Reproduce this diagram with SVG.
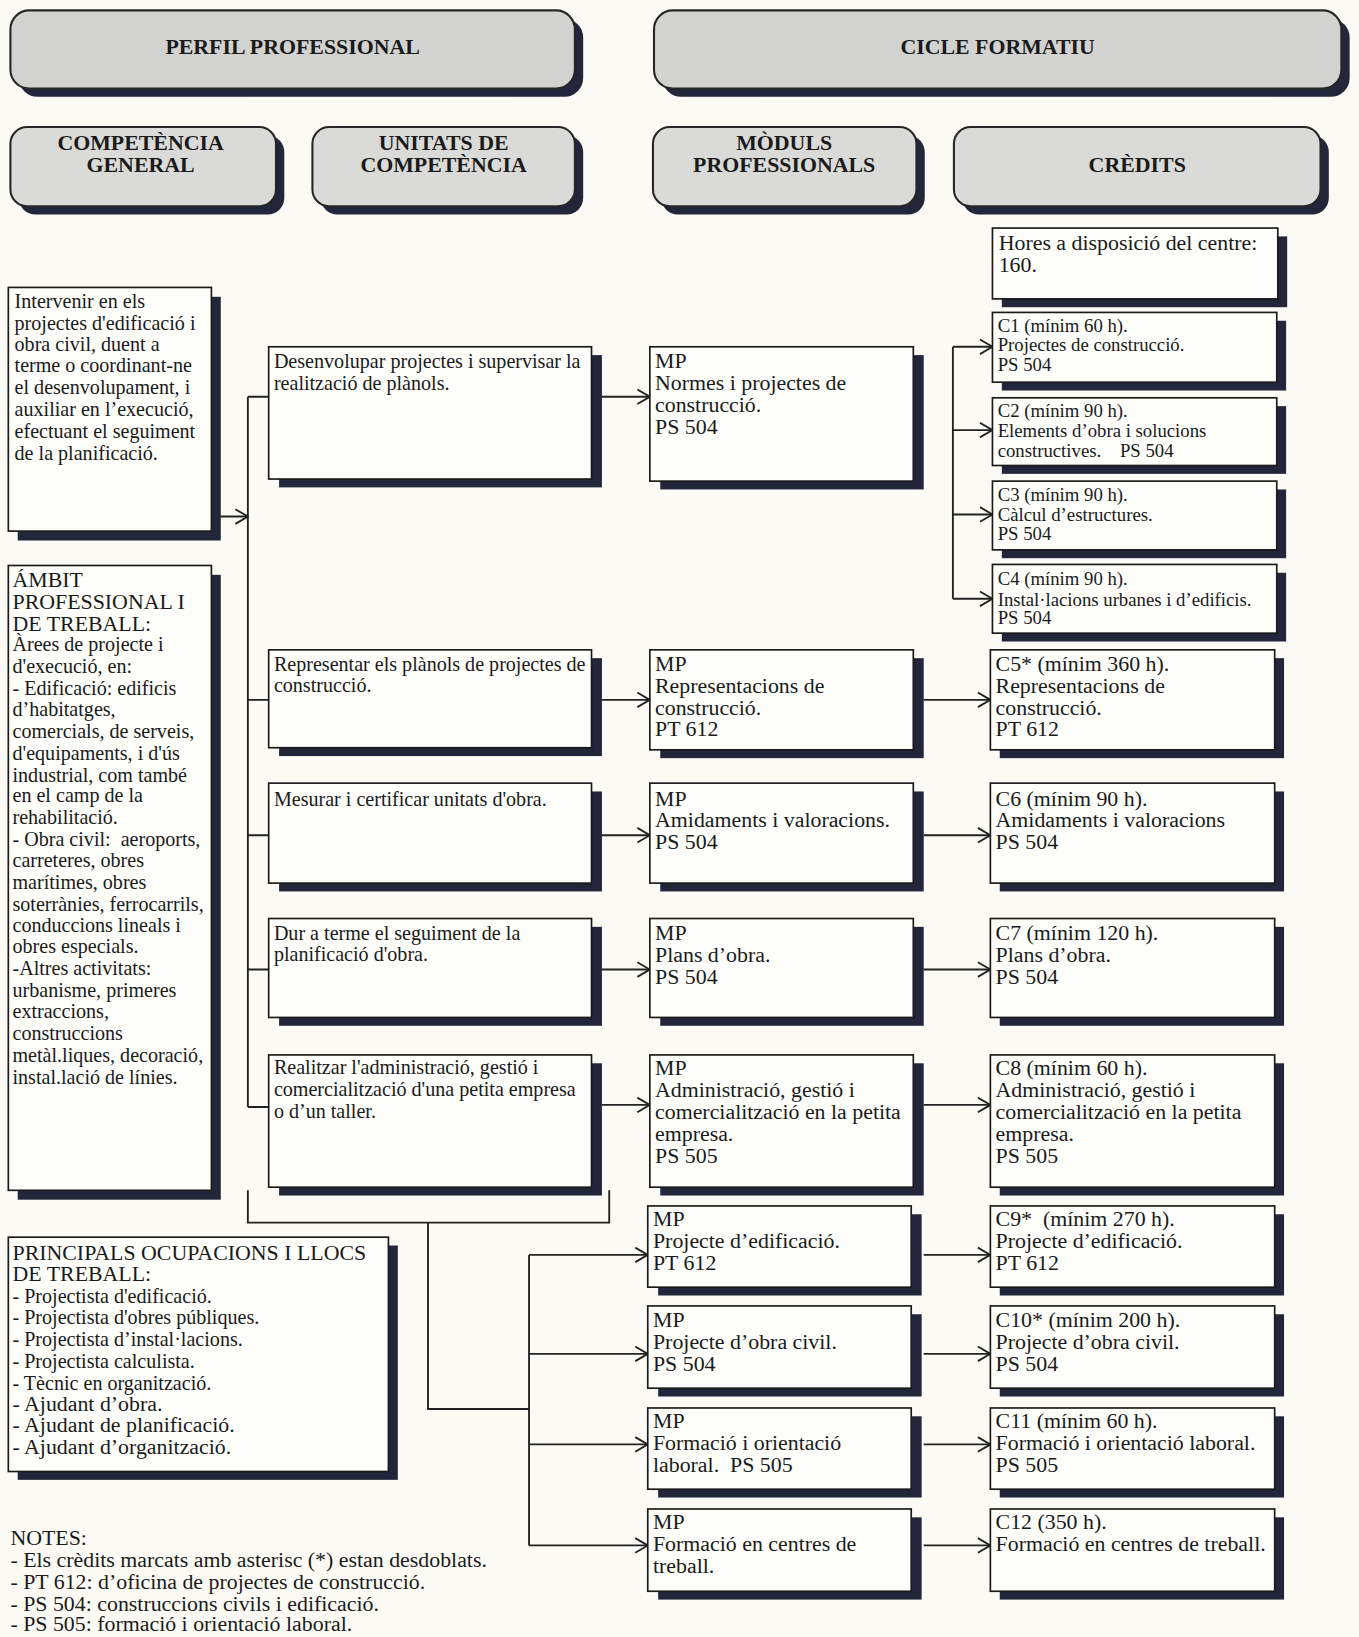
<svg xmlns="http://www.w3.org/2000/svg" width="1359" height="1637" viewBox="0 0 1359 1637">
<defs>
<style>
.bg{fill:#fbfaf4}
.hdr{fill:#d2d2d0;stroke:#262626;stroke-width:2}
.hdr2{fill:#dadad8;stroke:#262626;stroke-width:2}
.sh{fill:#23263a}
.box{fill:#fdfdf9;stroke:#1a1a1a;stroke-width:1.6}
text{font-family:"Liberation Serif","Times New Roman",serif;fill:#1a1a1a;white-space:pre}
.t,.l,.s{transform:translate(0px,1.5px)}
.h{font-size:21px;font-weight:bold;text-anchor:middle}
.t{font-size:19.3px}
.l{font-size:21px}
.s{font-size:18px}
.c{fill:none;stroke:#222;stroke-width:1.8}
</style>
<marker id="ar" viewBox="0 0 14 16" refX="13" refY="8" markerWidth="14" markerHeight="16" markerUnits="userSpaceOnUse" orient="auto">
<path d="M1,1 L13,8 L1,15" fill="none" stroke="#222" stroke-width="1.8"/>
</marker>
</defs>
<rect class="bg" x="0" y="0" width="1359" height="1637"/>
<g transform="scale(1.0414)">

<g id="hdr-perfil">
<rect class="sh" x="18" y="18" width="542" height="75" rx="18"/>
<rect class="hdr" x="10" y="10" width="542" height="75" rx="18"/>
<text class="h" x="281" y="52">PERFIL PROFESSIONAL</text>
</g>
<g id="hdr-cicle">
<rect class="sh" x="636" y="18" width="660" height="75" rx="18"/>
<rect class="hdr" x="628" y="10" width="660" height="75" rx="18"/>
<text class="h" x="958" y="52">CICLE FORMATIU</text>
</g>
<g id="hdr-competencia">
<rect class="sh" x="18" y="130" width="255" height="76" rx="16"/>
<rect class="hdr2" x="10" y="122" width="255" height="76" rx="16"/>
<text class="h" x="135" y="144">COMPETÈNCIA</text>
<text class="h" x="135" y="165">GENERAL</text>
</g>
<g id="hdr-unitats">
<rect class="sh" x="308" y="130" width="252" height="76" rx="16"/>
<rect class="hdr2" x="300" y="122" width="252" height="76" rx="16"/>
<text class="h" x="426" y="144">UNITATS DE</text>
<text class="h" x="426" y="165">COMPETÈNCIA</text>
</g>
<g id="hdr-moduls">
<rect class="sh" x="635" y="130" width="253" height="76" rx="16"/>
<rect class="hdr2" x="627" y="122" width="253" height="76" rx="16"/>
<text class="h" x="753" y="144">MÒDULS</text>
<text class="h" x="753" y="165">PROFESSIONALS</text>
</g>
<g id="hdr-credits">
<rect class="sh" x="924" y="130" width="352" height="76" rx="16"/>
<rect class="hdr2" x="916" y="122" width="352" height="76" rx="16"/>
<text class="h" x="1092" y="165">CRÈDITS</text>
</g>

<g id="connectors">
<path class="c" d="M203,496 H238" marker-end="url(#ar)"/>
<path class="c" d="M238,381 V1063"/>
<path class="c" d="M238,381 H258 M238,672 H258 M238,802 H258 M238,931 H258 M238,1063 H258"/>
<path class="c" d="M578,381 H624" marker-end="url(#ar)"/>
<path class="c" d="M578,672 H624" marker-end="url(#ar)"/>
<path class="c" d="M578,802 H624" marker-end="url(#ar)"/>
<path class="c" d="M578,931 H624" marker-end="url(#ar)"/>
<path class="c" d="M578,1061 H624" marker-end="url(#ar)"/>
<path class="c" d="M915,333 V575"/>
<path class="c" d="M915,333 H953" marker-end="url(#ar)"/>
<path class="c" d="M915,413 H953" marker-end="url(#ar)"/>
<path class="c" d="M915,494 H953" marker-end="url(#ar)"/>
<path class="c" d="M915,575 H953" marker-end="url(#ar)"/>
<path class="c" d="M887,672 H951" marker-end="url(#ar)"/>
<path class="c" d="M887,802 H951" marker-end="url(#ar)"/>
<path class="c" d="M887,931 H951" marker-end="url(#ar)"/>
<path class="c" d="M887,1061 H951" marker-end="url(#ar)"/>
<path class="c" d="M887,1205 H951" marker-end="url(#ar)"/>
<path class="c" d="M887,1300 H951" marker-end="url(#ar)"/>
<path class="c" d="M887,1387 H951" marker-end="url(#ar)"/>
<path class="c" d="M887,1484 H951" marker-end="url(#ar)"/>
<path class="c" d="M238,1143 V1174 H585 V1143"/>
<path class="c" d="M411,1174 V1353 H508"/>
<path class="c" d="M508,1205 V1484"/>
<path class="c" d="M508,1205 H622" marker-end="url(#ar)"/>
<path class="c" d="M508,1300 H622" marker-end="url(#ar)"/>
<path class="c" d="M508,1387 H622" marker-end="url(#ar)"/>
<path class="c" d="M508,1484 H622" marker-end="url(#ar)"/>
</g>

<g id="competencia-general">
<rect class="sh" x="17" y="285" width="195" height="234"/>
<rect class="box" x="8" y="276" width="195" height="234"/>
<text class="t" x="14" y="294">Intervenir en els</text>
<text class="t" x="14" y="315">projectes d'edificació i</text>
<text class="t" x="14" y="336">obra civil, duent a</text>
<text class="t" x="14" y="356">terme o coordinant-ne</text>
<text class="t" x="14" y="377">el desenvolupament, i</text>
<text class="t" x="14" y="398">auxiliar en l’execució,</text>
<text class="t" x="14" y="419">efectuant el seguiment</text>
<text class="t" x="14" y="440">de la planificació.</text>
</g>

<g id="ambit">
<rect class="sh" x="17" y="552" width="195" height="600"/>
<rect class="box" x="8" y="543" width="195" height="600"/>
<text class="l" x="12" y="562">ÁMBIT</text>
<text class="l" x="12" y="583">PROFESSIONAL I</text>
<text class="l" x="12" y="604">DE TREBALL:</text>
<text class="t" x="12" y="624">Àrees de projecte i</text>
<text class="t" x="12" y="645">d'execució, en:</text>
<text class="t" x="12" y="666">- Edificació: edificis</text>
<text class="t" x="12" y="686">d’habitatges,</text>
<text class="t" x="12" y="707">comercials, de serveis,</text>
<text class="t" x="12" y="728">d'equipaments, i d'ús</text>
<text class="t" x="12" y="749">industrial, com també</text>
<text class="t" x="12" y="769">en el camp de la</text>
<text class="t" x="12" y="790">rehabilitació.</text>
<text class="t" x="12" y="811">- Obra civil:  aeroports,</text>
<text class="t" x="12" y="831">carreteres, obres</text>
<text class="t" x="12" y="852">marítimes, obres</text>
<text class="t" x="12" y="873">soterrànies, ferrocarrils,</text>
<text class="t" x="12" y="893">conduccions lineals i</text>
<text class="t" x="12" y="914">obres especials.</text>
<text class="t" x="12" y="935">-Altres activitats:</text>
<text class="t" x="12" y="956">urbanisme, primeres</text>
<text class="t" x="12" y="976">extraccions,</text>
<text class="t" x="12" y="997">construccions</text>
<text class="t" x="12" y="1018">metàl.liques, decoració,</text>
<text class="t" x="12" y="1039">instal.lació de línies.</text>
</g>

<g id="ocupacions">
<rect class="sh" x="17" y="1196" width="365" height="225"/>
<rect class="box" x="8" y="1188" width="365" height="225"/>
<text class="l" x="12" y="1208">PRINCIPALS OCUPACIONS I LLOCS</text>
<text class="l" x="12" y="1229">DE TREBALL:</text>
<text class="t" x="12" y="1250">- Projectista d'edificació.</text>
<text class="t" x="12" y="1270">- Projectista d'obres públiques.</text>
<text class="t" x="12" y="1291">- Projectista d’instal·lacions.</text>
<text class="t" x="12" y="1312">- Projectista calculista.</text>
<text class="t" x="12" y="1333">- Tècnic en organització.</text>
<text class="l" x="12" y="1353">- Ajudant d’obra.</text>
<text class="l" x="12" y="1374">- Ajudant de planificació.</text>
<text class="l" x="12" y="1395">- Ajudant d’organització.</text>
</g>

<g id="notes">
<text class="l" x="10" y="1482">NOTES:</text>
<text class="l" x="10" y="1503">- Els crèdits marcats amb asterisc (*) estan desdoblats.</text>
<text class="l" x="10" y="1524">- PT 612: d’oficina de projectes de construcció.</text>
<text class="l" x="10" y="1545">- PS 504: construccions civils i edificació.</text>
<text class="l" x="10" y="1565">- PS 505: formació i orientació laboral.</text>
</g>

<g id="uc1">
<rect class="sh" x="268" y="341" width="310" height="127"/>
<rect class="box" x="258" y="333" width="310" height="127"/>
<text class="t" x="263" y="352">Desenvolupar projectes i supervisar la</text>
<text class="t" x="263" y="373">realització de plànols.</text>
</g>
<g id="uc2">
<rect class="sh" x="268" y="632" width="310" height="94"/>
<rect class="box" x="258" y="624" width="310" height="94"/>
<text class="t" x="263" y="643">Representar els plànols de projectes de</text>
<text class="t" x="263" y="663">construcció.</text>
</g>
<g id="uc3">
<rect class="sh" x="268" y="760" width="310" height="96"/>
<rect class="box" x="258" y="752" width="310" height="96"/>
<text class="t" x="263" y="772">Mesurar i certificar unitats d'obra.</text>
</g>
<g id="uc4">
<rect class="sh" x="268" y="890" width="310" height="95"/>
<rect class="box" x="258" y="882" width="310" height="95"/>
<text class="t" x="263" y="901">Dur a terme el seguiment de la</text>
<text class="t" x="263" y="921">planificació d'obra.</text>
</g>
<g id="uc5">
<rect class="sh" x="268" y="1021" width="310" height="127"/>
<rect class="box" x="258" y="1013" width="310" height="127"/>
<text class="t" x="263" y="1030">Realitzar l'administració, gestió i</text>
<text class="t" x="263" y="1051">comercialització d'una petita empresa</text>
<text class="t" x="263" y="1072">o d’un taller.</text>
</g>

<g id="mp1">
<rect class="sh" x="634" y="341" width="253" height="129"/>
<rect class="box" x="624" y="333" width="253" height="129"/>
<text class="l" x="629" y="352">MP</text>
<text class="l" x="629" y="373">Normes i projectes de</text>
<text class="l" x="629" y="394">construcció.</text>
<text class="l" x="629" y="415">PS 504</text>
</g>
<g id="mp2">
<rect class="sh" x="634" y="632" width="253" height="96"/>
<rect class="box" x="624" y="624" width="253" height="96"/>
<text class="l" x="629" y="643">MP</text>
<text class="l" x="629" y="664">Representacions de</text>
<text class="l" x="629" y="685">construcció.</text>
<text class="l" x="629" y="705">PT 612</text>
</g>
<g id="mp3">
<rect class="sh" x="634" y="760" width="253" height="96"/>
<rect class="box" x="624" y="752" width="253" height="96"/>
<text class="l" x="629" y="772">MP</text>
<text class="l" x="629" y="793">Amidaments i valoracions.</text>
<text class="l" x="629" y="814">PS 504</text>
</g>
<g id="mp4">
<rect class="sh" x="634" y="890" width="253" height="95"/>
<rect class="box" x="624" y="882" width="253" height="95"/>
<text class="l" x="629" y="901">MP</text>
<text class="l" x="629" y="922">Plans d’obra.</text>
<text class="l" x="629" y="943">PS 504</text>
</g>
<g id="mp5">
<rect class="sh" x="634" y="1021" width="253" height="127"/>
<rect class="box" x="624" y="1013" width="253" height="127"/>
<text class="l" x="629" y="1031">MP</text>
<text class="l" x="629" y="1052">Administració, gestió i</text>
<text class="l" x="629" y="1073">comercialització en la petita</text>
<text class="l" x="629" y="1094">empresa.</text>
<text class="l" x="629" y="1115">PS 505</text>
</g>
<g id="mp6">
<rect class="sh" x="632" y="1166" width="253" height="78"/>
<rect class="box" x="622" y="1158" width="253" height="78"/>
<text class="l" x="627" y="1176">MP</text>
<text class="l" x="627" y="1197">Projecte d’edificació.</text>
<text class="l" x="627" y="1218">PT 612</text>
</g>
<g id="mp7">
<rect class="sh" x="632" y="1262" width="253" height="79"/>
<rect class="box" x="622" y="1254" width="253" height="79"/>
<text class="l" x="627" y="1273">MP</text>
<text class="l" x="627" y="1294">Projecte d’obra civil.</text>
<text class="l" x="627" y="1315">PS 504</text>
</g>
<g id="mp8">
<rect class="sh" x="632" y="1360" width="253" height="78"/>
<rect class="box" x="622" y="1352" width="253" height="78"/>
<text class="l" x="627" y="1370">MP</text>
<text class="l" x="627" y="1391">Formació i orientació</text>
<text class="l" x="627" y="1412">laboral.  PS 505</text>
</g>
<g id="mp9">
<rect class="sh" x="632" y="1457" width="253" height="79"/>
<rect class="box" x="622" y="1449" width="253" height="79"/>
<text class="l" x="627" y="1467">MP</text>
<text class="l" x="627" y="1488">Formació en centres de</text>
<text class="l" x="627" y="1509">treball.</text>
</g>

<g id="hores">
<rect class="sh" x="962" y="227" width="274" height="68"/>
<rect class="box" x="953" y="219" width="274" height="68"/>
<text class="l" x="959" y="239">Hores a disposició del centre:</text>
<text class="l" x="959" y="260">160.</text>
</g>
<g id="c1">
<rect class="sh" x="962" y="308" width="273" height="67"/>
<rect class="box" x="953" y="300" width="273" height="67"/>
<text class="s" x="958" y="317">C1 (mínim 60 h).</text>
<text class="s" x="958" y="336">Projectes de construcció.</text>
<text class="s" x="958" y="355">PS 504</text>
</g>
<g id="c2">
<rect class="sh" x="962" y="390" width="273" height="65"/>
<rect class="box" x="953" y="382" width="273" height="65"/>
<text class="s" x="958" y="399">C2 (mínim 90 h).</text>
<text class="s" x="958" y="418">Elements d’obra i solucions</text>
<text class="s" x="958" y="437">constructives.    PS 504</text>
</g>
<g id="c3">
<rect class="sh" x="962" y="470" width="273" height="66"/>
<rect class="box" x="953" y="462" width="273" height="66"/>
<text class="s" x="958" y="480">C3 (mínim 90 h).</text>
<text class="s" x="958" y="499">Càlcul d’estructures.</text>
<text class="s" x="958" y="517">PS 504</text>
</g>
<g id="c4">
<rect class="sh" x="962" y="550" width="273" height="66"/>
<rect class="box" x="953" y="542" width="273" height="66"/>
<text class="s" x="958" y="560">C4 (mínim 90 h).</text>
<text class="s" x="958" y="580">Instal·lacions urbanes i d’edificis.</text>
<text class="s" x="958" y="598">PS 504</text>
</g>
<g id="c5">
<rect class="sh" x="960" y="632" width="273" height="96"/>
<rect class="box" x="951" y="624" width="273" height="96"/>
<text class="l" x="956" y="643">C5* (mínim 360 h).</text>
<text class="l" x="956" y="664">Representacions de</text>
<text class="l" x="956" y="685">construcció.</text>
<text class="l" x="956" y="705">PT 612</text>
</g>
<g id="c6">
<rect class="sh" x="960" y="760" width="273" height="96"/>
<rect class="box" x="951" y="752" width="273" height="96"/>
<text class="l" x="956" y="772">C6 (mínim 90 h).</text>
<text class="l" x="956" y="793">Amidaments i valoracions</text>
<text class="l" x="956" y="814">PS 504</text>
</g>
<g id="c7">
<rect class="sh" x="960" y="890" width="273" height="95"/>
<rect class="box" x="951" y="882" width="273" height="95"/>
<text class="l" x="956" y="901">C7 (mínim 120 h).</text>
<text class="l" x="956" y="922">Plans d’obra.</text>
<text class="l" x="956" y="943">PS 504</text>
</g>
<g id="c8">
<rect class="sh" x="960" y="1021" width="273" height="127"/>
<rect class="box" x="951" y="1013" width="273" height="127"/>
<text class="l" x="956" y="1031">C8 (mínim 60 h).</text>
<text class="l" x="956" y="1052">Administració, gestió i</text>
<text class="l" x="956" y="1073">comercialització en la petita</text>
<text class="l" x="956" y="1094">empresa.</text>
<text class="l" x="956" y="1115">PS 505</text>
</g>
<g id="c9">
<rect class="sh" x="960" y="1166" width="273" height="78"/>
<rect class="box" x="951" y="1158" width="273" height="78"/>
<text class="l" x="956" y="1176">C9*  (mínim 270 h).</text>
<text class="l" x="956" y="1197">Projecte d’edificació.</text>
<text class="l" x="956" y="1218">PT 612</text>
</g>
<g id="c10">
<rect class="sh" x="960" y="1262" width="273" height="79"/>
<rect class="box" x="951" y="1254" width="273" height="79"/>
<text class="l" x="956" y="1273">C10* (mínim 200 h).</text>
<text class="l" x="956" y="1294">Projecte d’obra civil.</text>
<text class="l" x="956" y="1315">PS 504</text>
</g>
<g id="c11">
<rect class="sh" x="960" y="1360" width="273" height="78"/>
<rect class="box" x="951" y="1352" width="273" height="78"/>
<text class="l" x="956" y="1370">C11 (mínim 60 h).</text>
<text class="l" x="956" y="1391">Formació i orientació laboral.</text>
<text class="l" x="956" y="1412">PS 505</text>
</g>
<g id="c12">
<rect class="sh" x="960" y="1457" width="273" height="79"/>
<rect class="box" x="951" y="1449" width="273" height="79"/>
<text class="l" x="956" y="1467">C12 (350 h).</text>
<text class="l" x="956" y="1488">Formació en centres de treball.</text>
</g>

</g>
</svg>
